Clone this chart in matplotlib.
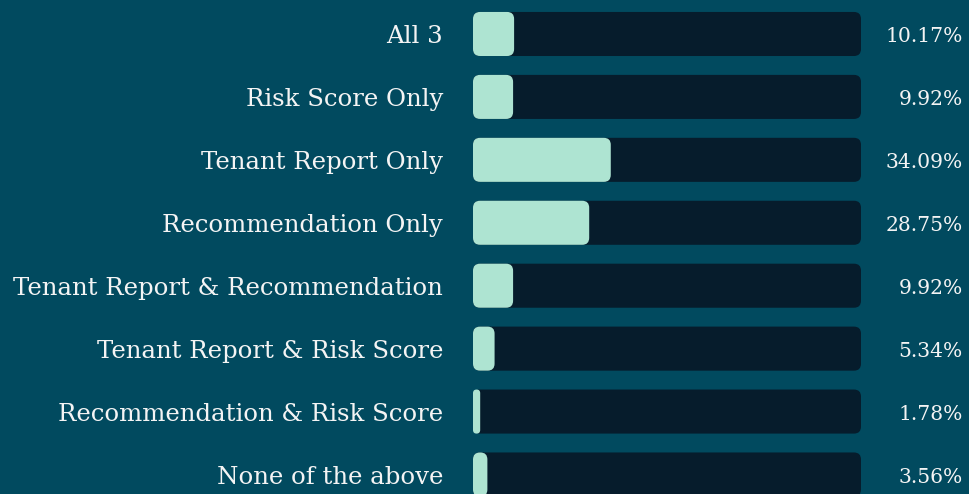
import matplotlib.pyplot as plt
from matplotlib.patches import FancyBboxPatch
import matplotlib.transforms as transforms

# 데이터
labels = ['All 3', 'Risk Score Only', 'Tenant Report Only', 'Recommendation Only',
          'Tenant Report & Recommendation', 'Tenant Report & Risk Score',
          'Recommendation & Risk Score', 'None of the above']
values = [10.17, 9.92, 34.09, 28.75, 9.92, 5.34, 1.78, 3.56]

bg = '#014a5f'
track_c = '#061c2c'
fill_c = '#aee4d2'
text_c = '#f4f4f4'
TRACK = 96  # 트랙 길이 (데이터 단위)

W, H = 969, 494
fig = plt.figure(figsize=(W / 100, H / 100), dpi=100)
fig.patch.set_facecolor(bg)
ax = fig.add_axes([473 / W, 0, 388 / W, 1])
ax.set_facecolor(bg)
ax.set_xlim(0, TRACK)
ax.set_ylim(7.31, -0.54)
ax.axis('off')

bar_h = 0.70
px_x = 388 / TRACK
px_y = H / (7.31 + 0.54)
rad_px = 7
aspect = px_x / px_y

def rbar(x0, w, y, color):
    r = min(rad_px / px_x, w / 2)
    p = FancyBboxPatch((x0, y - bar_h / 2), w, bar_h,
                       boxstyle='round,pad=0,rounding_size=%f' % r,
                       mutation_aspect=aspect, fc=color, ec='none')
    ax.add_patch(p)

# 텍스트 위치: x는 figure 기준, y는 데이터 기준
trans = transforms.blended_transform_factory(fig.transFigure, ax.transData)
dy = 0.045
for i, (lab, v) in enumerate(zip(labels, values)):
    rbar(0, TRACK, i, track_c)
    rbar(0, v, i, fill_c)
    ax.text(443 / W, i + dy, lab, transform=trans, ha='right', va='center',
            color=text_c, fontsize=17.6, family='DejaVu Serif')
    ax.text(963 / W, i + dy, '%.2f%%' % v, transform=trans, ha='right', va='center',
            color=text_c, fontsize=14.6, family='DejaVu Serif')

fig.savefig('out.png', dpi=100, facecolor=bg)
